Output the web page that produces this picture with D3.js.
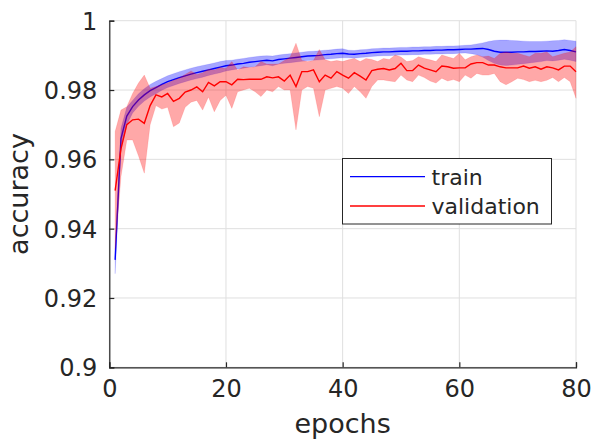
<!DOCTYPE html>
<html><head><meta charset="utf-8">
<script src="https://cdn.jsdelivr.net/npm/d3@7"></script>
<style>body{margin:0;background:#fff}svg{display:block}text{font-family:"DejaVu Sans",sans-serif;fill:#262626}</style>
</head><body><svg id="c" width="595" height="439"></svg>
<script>
const epochs = d3.range(1, 81);
const trainMean = [0.931,0.966,0.9725,0.9752,0.9771,0.9786,0.9798,0.9807,0.9816,0.9824,0.983,0.9836,0.9841,0.9846,0.985,0.9854,0.9858,0.9862,0.9866,0.987,0.9872,0.9875,0.9877,0.988,0.9882,0.9884,0.9886,0.9884,0.9888,0.989,0.9892,0.9894,0.9896,0.9898,0.9899,0.99,0.9902,0.9903,0.9905,0.9906,0.9904,0.9903,0.9905,0.9906,0.9908,0.9909,0.991,0.991,0.9911,0.9912,0.9912,0.9913,0.9913,0.9914,0.9914,0.9915,0.9915,0.9916,0.9916,0.9917,0.9918,0.9918,0.9919,0.992,0.9917,0.9912,0.9909,0.9909,0.9909,0.991,0.991,0.9911,0.9911,0.9912,0.9913,0.9912,0.9914,0.9917,0.9914,0.991];
const trainUpper = [0.935,0.969,0.975,0.977,0.9789,0.9804,0.9816,0.9825,0.9833,0.9841,0.9847,0.9853,0.9858,0.9863,0.9867,0.9871,0.9874,0.9878,0.9882,0.9885,0.9886,0.9889,0.9891,0.9894,0.9896,0.9898,0.9899,0.9898,0.9901,0.9903,0.9905,0.9907,0.9909,0.9911,0.9912,0.9913,0.9915,0.9916,0.9918,0.9919,0.9915,0.9914,0.9916,0.9917,0.9919,0.992,0.9921,0.9921,0.9922,0.9923,0.9923,0.9924,0.9924,0.9925,0.9925,0.9926,0.9926,0.9927,0.9927,0.9928,0.9929,0.993,0.9933,0.9936,0.994,0.9943,0.9944,0.9944,0.9943,0.9942,0.9941,0.994,0.994,0.994,0.9941,0.9942,0.9943,0.9945,0.9943,0.9941];
const trainLower = [0.927,0.963,0.970,0.9734,0.9753,0.9768,0.978,0.9789,0.9799,0.9807,0.9813,0.9819,0.9824,0.9829,0.9833,0.9837,0.9842,0.9846,0.985,0.9855,0.9858,0.9861,0.9863,0.9866,0.9868,0.987,0.9873,0.987,0.9875,0.9877,0.9879,0.9881,0.9883,0.9885,0.9886,0.9887,0.9889,0.989,0.9892,0.9893,0.9893,0.9892,0.9894,0.9895,0.9897,0.9898,0.9899,0.9899,0.99,0.9901,0.9901,0.9902,0.9902,0.9903,0.9903,0.9904,0.9904,0.9905,0.9905,0.9906,0.9907,0.9905,0.9902,0.9895,0.9885,0.9877,0.9872,0.9871,0.9872,0.9874,0.9876,0.9878,0.988,0.9882,0.9885,0.9884,0.9886,0.9889,0.9886,0.9882];
const valMean = [0.951,0.963,0.970,0.9714,0.9716,0.9704,0.9755,0.9786,0.978,0.979,0.9767,0.9776,0.9794,0.980,0.9809,0.9795,0.9822,0.9812,0.9824,0.9824,0.9815,0.9831,0.983,0.9831,0.9831,0.9831,0.9838,0.9835,0.9838,0.9826,0.9843,0.981,0.9853,0.9853,0.9858,0.9824,0.9843,0.9834,0.9853,0.9843,0.9834,0.985,0.984,0.9829,0.9856,0.986,0.9862,0.9858,0.9862,0.9877,0.9856,0.9856,0.9872,0.9863,0.9858,0.9853,0.9869,0.9867,0.9863,0.9864,0.9864,0.9875,0.9879,0.9879,0.9872,0.9872,0.9867,0.9864,0.9864,0.9864,0.9869,0.9863,0.9867,0.986,0.9867,0.9864,0.9858,0.9869,0.9869,0.9853];
const valUpper = [0.968,0.9742,0.9752,0.979,0.982,0.9843,0.9805,0.981,0.9815,0.982,0.9828,0.9835,0.9845,0.9855,0.9845,0.985,0.986,0.9858,0.9865,0.9862,0.9882,0.9858,0.9867,0.9865,0.9867,0.9882,0.9875,0.9875,0.9875,0.9885,0.9895,0.9935,0.9885,0.9882,0.9885,0.9917,0.9887,0.9882,0.9885,0.9882,0.9887,0.9891,0.9882,0.9891,0.9888,0.9882,0.9891,0.9888,0.9901,0.9895,0.9882,0.9885,0.9896,0.9891,0.9887,0.9882,0.9901,0.9896,0.9891,0.9906,0.9887,0.9896,0.9901,0.9896,0.9898,0.9891,0.9906,0.991,0.9906,0.9906,0.9901,0.9896,0.9906,0.9906,0.991,0.9896,0.9901,0.9906,0.991,0.9925];
const valLower = [0.934,0.955,0.9656,0.9656,0.961,0.956,0.970,0.9755,0.9745,0.975,0.9694,0.9705,0.975,0.9765,0.977,0.9742,0.978,0.9737,0.977,0.9785,0.9747,0.9795,0.980,0.9805,0.9795,0.9781,0.980,0.9795,0.981,0.980,0.980,0.9685,0.980,0.981,0.9805,0.9723,0.980,0.9805,0.981,0.9805,0.979,0.981,0.9795,0.9776,0.981,0.9829,0.9829,0.9826,0.9824,0.9843,0.9829,0.9824,0.9843,0.9836,0.9826,0.982,0.9834,0.9826,0.983,0.9824,0.9843,0.9834,0.9848,0.9843,0.9843,0.9848,0.9824,0.9815,0.9824,0.9834,0.983,0.9824,0.9828,0.9824,0.9828,0.9836,0.9824,0.9836,0.9824,0.9776];
const xTicks = [0,20,40,60,80];
const yTicks = [0.9,0.92,0.94,0.96,0.98,1];
const yTickLabels = ["0.9","0.92","0.94","0.96","0.98","1"];
const seriesNames = ["train","validation"];
const seriesColors = ["#0000ff","#ff0000"];

const svg = d3.select("#c");
const L = 109.3, R = 576, T = 20.7, B = 367.3;
const x = d3.scaleLinear().domain([0,80]).range([L,R]);
const y = d3.scaleLinear().domain([0.9,1]).range([B,T]);
const axisCol = "#262626";

// grid
const g = svg.append("g");
g.selectAll(".gx").data(xTicks).join("line").attr("x1",d=>x(d)).attr("x2",d=>x(d)).attr("y1",T).attr("y2",B).attr("stroke","#dfdfdf").attr("stroke-width",1);
g.selectAll(".gy").data(yTicks).join("line").attr("y1",d=>y(d)).attr("y2",d=>y(d)).attr("x1",L).attr("x2",R).attr("stroke","#dfdfdf").attr("stroke-width",1);

const rows = epochs.map((e,i)=>({e, tm:trainMean[i], tu:trainUpper[i], tl:trainLower[i], vm:valMean[i], vu:valUpper[i], vl:valLower[i]}));
const area = (u,l)=>d3.area().x(d=>x(d.e)).y0(d=>y(d[l])).y1(d=>y(d[u]));
const line = (k)=>d3.line().x(d=>x(d.e)).y(d=>y(d[k]));

svg.append("path").datum(rows).attr("d",area("tu","tl")).attr("fill","#0000ff").attr("fill-opacity",0.35).attr("stroke","#0000ff").attr("stroke-opacity",0.15).attr("stroke-width",0.8);
svg.append("path").datum(rows).attr("d",line("tm")).attr("fill","none").attr("stroke","#0000ff").attr("stroke-width",1.4);
svg.append("path").datum(rows).attr("d",area("vu","vl")).attr("fill","#ff0000").attr("fill-opacity",0.34).attr("stroke","#ff0000").attr("stroke-opacity",0.15).attr("stroke-width",0.8);
svg.append("path").datum(rows).attr("d",line("vm")).attr("fill","none").attr("stroke","#ff0000").attr("stroke-width",1.4);

// axes
const xa = svg.append("g").attr("transform",`translate(0,${B})`).call(d3.axisBottom(x).tickValues(xTicks).tickSize(-5).tickPadding(12).tickFormat(d3.format("d")));
const ya = svg.append("g").attr("transform",`translate(${L},0)`).call(d3.axisLeft(y).tickValues(yTicks).tickSize(-5).tickPadding(12).tickFormat((d,i)=>yTickLabels[i]));
[xa,ya].forEach(a=>{a.select(".domain").attr("stroke",axisCol).attr("stroke-width",1.2);a.selectAll(".tick line").attr("stroke",axisCol).attr("stroke-width",1.2);a.selectAll("text").attr("font-size",24).attr("font-family","DejaVu Sans").attr("fill",axisCol);});
xa.selectAll("text").attr("dy",null).attr("y",30);
ya.selectAll("text").attr("dy","0.36em");

svg.append("text").attr("x",(L+R)/2).attr("y",433).attr("text-anchor","middle").attr("font-size",27).text("epochs");
svg.append("text").attr("transform",`translate(28,${(T+B)/2}) rotate(-90)`).attr("text-anchor","middle").attr("font-size",27).text("accuracy");

// legend
const lg = svg.append("g");
lg.append("rect").attr("x",342.5).attr("y",158.5).attr("width",209).attr("height",65.5).attr("fill","#fff").attr("stroke","#262626").attr("stroke-width",1);
seriesNames.forEach((n,i)=>{
  const ly = 176.7 + i*29.3;
  lg.append("line").attr("x1",350).attr("x2",425).attr("y1",ly).attr("y2",ly).attr("stroke",seriesColors[i]).attr("stroke-width",1.3);
  lg.append("text").attr("x",431.5).attr("y",ly+8.3).attr("font-size",22).text(n);
});
</script></body></html>
